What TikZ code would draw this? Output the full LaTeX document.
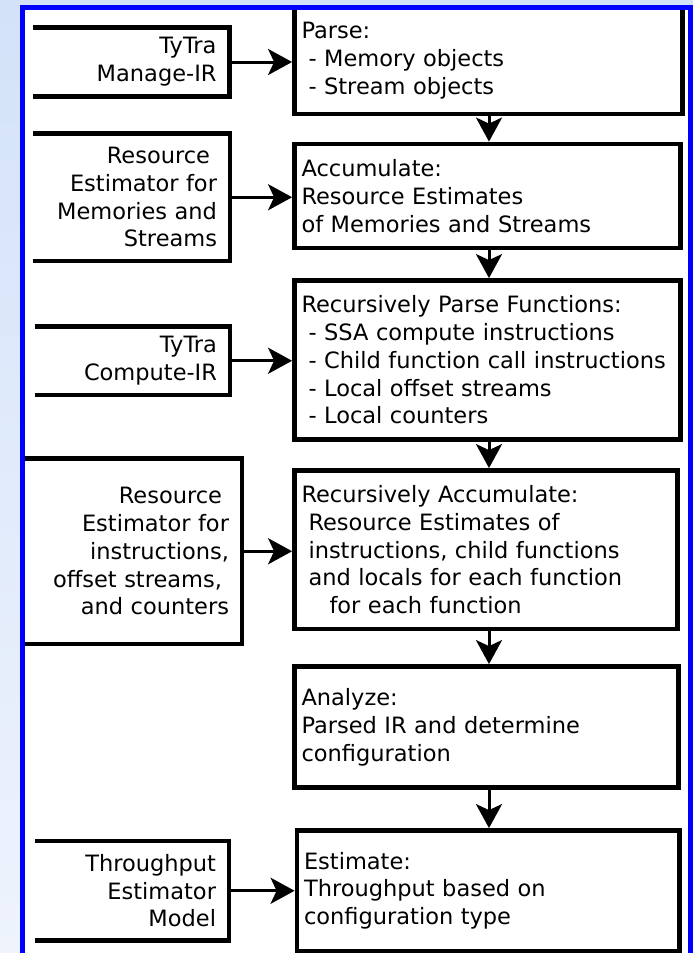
\documentclass[tikz,border=0pt]{standalone}
\usepackage{fontspec}
\setmainfont{DejaVu Sans}
\usetikzlibrary{arrows.meta}

\definecolor{pagetop}{HTML}{D3E2F9}
\definecolor{pagebot}{HTML}{EEF3FC}
\definecolor{framecol}{HTML}{0000FF}

\tikzset{
  txt/.style={font=\fontsize{22.5pt}{27.8pt}\selectfont, text=black},
  stage/.style={txt, draw=black, line width=4.8pt, fill=white, align=left,
    inner xsep=7pt, inner ysep=0pt, anchor=center},
  source/.style={txt, align=right, inner xsep=13pt, inner ysep=0pt,
    outer sep=0pt, anchor=center},
  rim/.style={draw=black, line width=4.8pt},
  flow/.style={draw=black, line width=3pt,
    -{Stealth[length=24pt, width=26pt, inset=6pt]}}
}
% trailing gap kept at the end of a right-aligned line
\newcommand{\trailgap}{\hspace*{7pt}\mbox{}}

\begin{document}
\begin{tikzpicture}[x=1pt, y=-1pt]
\useasboundingbox (0,0) rectangle (693,953);
\clip (0,0) rectangle (693,953);

% page background and white slide area
\shade[top color=pagetop, bottom color=pagebot] (0,0) rectangle (693,953);
\fill[white] (22.5,7.5) rectangle (700,1000);

% processing stages (right column)
\node[stage, minimum width=388pt, minimum height=106.5pt, text width=374pt]
  (parse) at (488.5,60.75)
  {Parse:\\ \hspace*{7pt}- Memory objects\\ \hspace*{7pt}- Stream objects};
\node[stage, minimum width=386pt, minimum height=104pt, text width=372pt]
  (accum) at (487.5,196)
  {Accumulate:\\ Resource Estimates\\ of Memories and Streams};
\node[stage, minimum width=386pt, minimum height=159pt, text width=372pt]
  (rparse) at (487.5,360)
  {Recursively Parse Functions:\\
   \hspace*{7pt}- SSA compute instructions\\
   \hspace*{7pt}- Child function call instructions\\
   \hspace*{7pt}- Local offset streams\\
   \hspace*{7pt}- Local counters};
\node[stage, minimum width=383pt, minimum height=158.5pt, text width=369pt]
  (raccum) at (486,549.75)
  {Recursively Accumulate:\\
   \hspace*{7pt}Resource Estimates of\\
   \hspace*{7pt}instructions, child functions\\
   \hspace*{7pt}and locals for each function\\
   \hspace*{28pt}for each function};
\node[stage, minimum width=384pt, minimum height=121pt, text width=370pt]
  (analyze) at (486.5,727)
  {Analyze:\\ Parsed IR and determine\\ configuration};
\node[stage, minimum width=382.5pt, minimum height=120.5pt, text width=368.5pt]
  (estimate) at (488.25,890.75)
  {Estimate:\\ Throughput based on\\ configuration type};

% inputs (left column), boxes open on the left
\node[source, minimum width=196.5pt, minimum height=69pt, text width=170.5pt]
  (manage) at (131.25,62) {TyTra\\ Manage-IR};
\node[source, minimum width=197pt, minimum height=127.5pt, text width=171pt]
  (memest) at (131.5,197.25)
  {Resource\trailgap\\ Estimator for\\ Memories and\\ Streams};
\node[source, minimum width=195pt, minimum height=68.5pt, text width=169pt]
  (compute) at (132.5,360.75) {TyTra\\ Compute-IR};
\node[source, minimum width=219.5pt, minimum height=185.5pt, text width=193.5pt]
  (instest) at (132.25,551.25)
  {Resource\trailgap\\ Estimator for\\ instructions,\\ offset streams,\trailgap\\ and counters};
\node[source, minimum width=194pt, minimum height=99.5pt, text width=168pt]
  (thrmodel) at (132,890.75) {Throughput\\ Estimator\\ Model};

\foreach \n in {manage, memest, compute, instest, thrmodel}
  \draw[rim] (\n.north west) -| (\n.south east) -- (\n.south west);

% inputs feeding the stages
\draw[flow] (manage.east) -- (manage.east -| parse.west);
\draw[flow] (memest.east) -- (memest.east -| accum.west);
\draw[flow] (compute.east) -- (compute.east -| rparse.west);
\draw[flow] (instest.east) -- (instest.east -| raccum.west);
\draw[flow] (thrmodel.east) -- (thrmodel.east -| estimate.west);

% stage sequence
\coordinate (spine) at (489,0);
\draw[flow] (parse.south -| spine) -- (accum.north -| spine);
\draw[flow] (accum.south -| spine) -- (rparse.north -| spine);
\draw[flow] (rparse.south -| spine) -- (raccum.north -| spine);
\draw[flow] (raccum.south -| spine) -- (analyze.north -| spine);
\draw[flow] (analyze.south -| spine) -- (estimate.north -| spine);

% slide frame
\draw[framecol, line width=5pt] (22.5,7.5) -- (690.5,7.5) -- (690.5,1000)
  (22.5,7.5) -- (22.5,1000);
\fill[framecol] (20,5) rectangle (693,10);
\end{tikzpicture}
\end{document}
